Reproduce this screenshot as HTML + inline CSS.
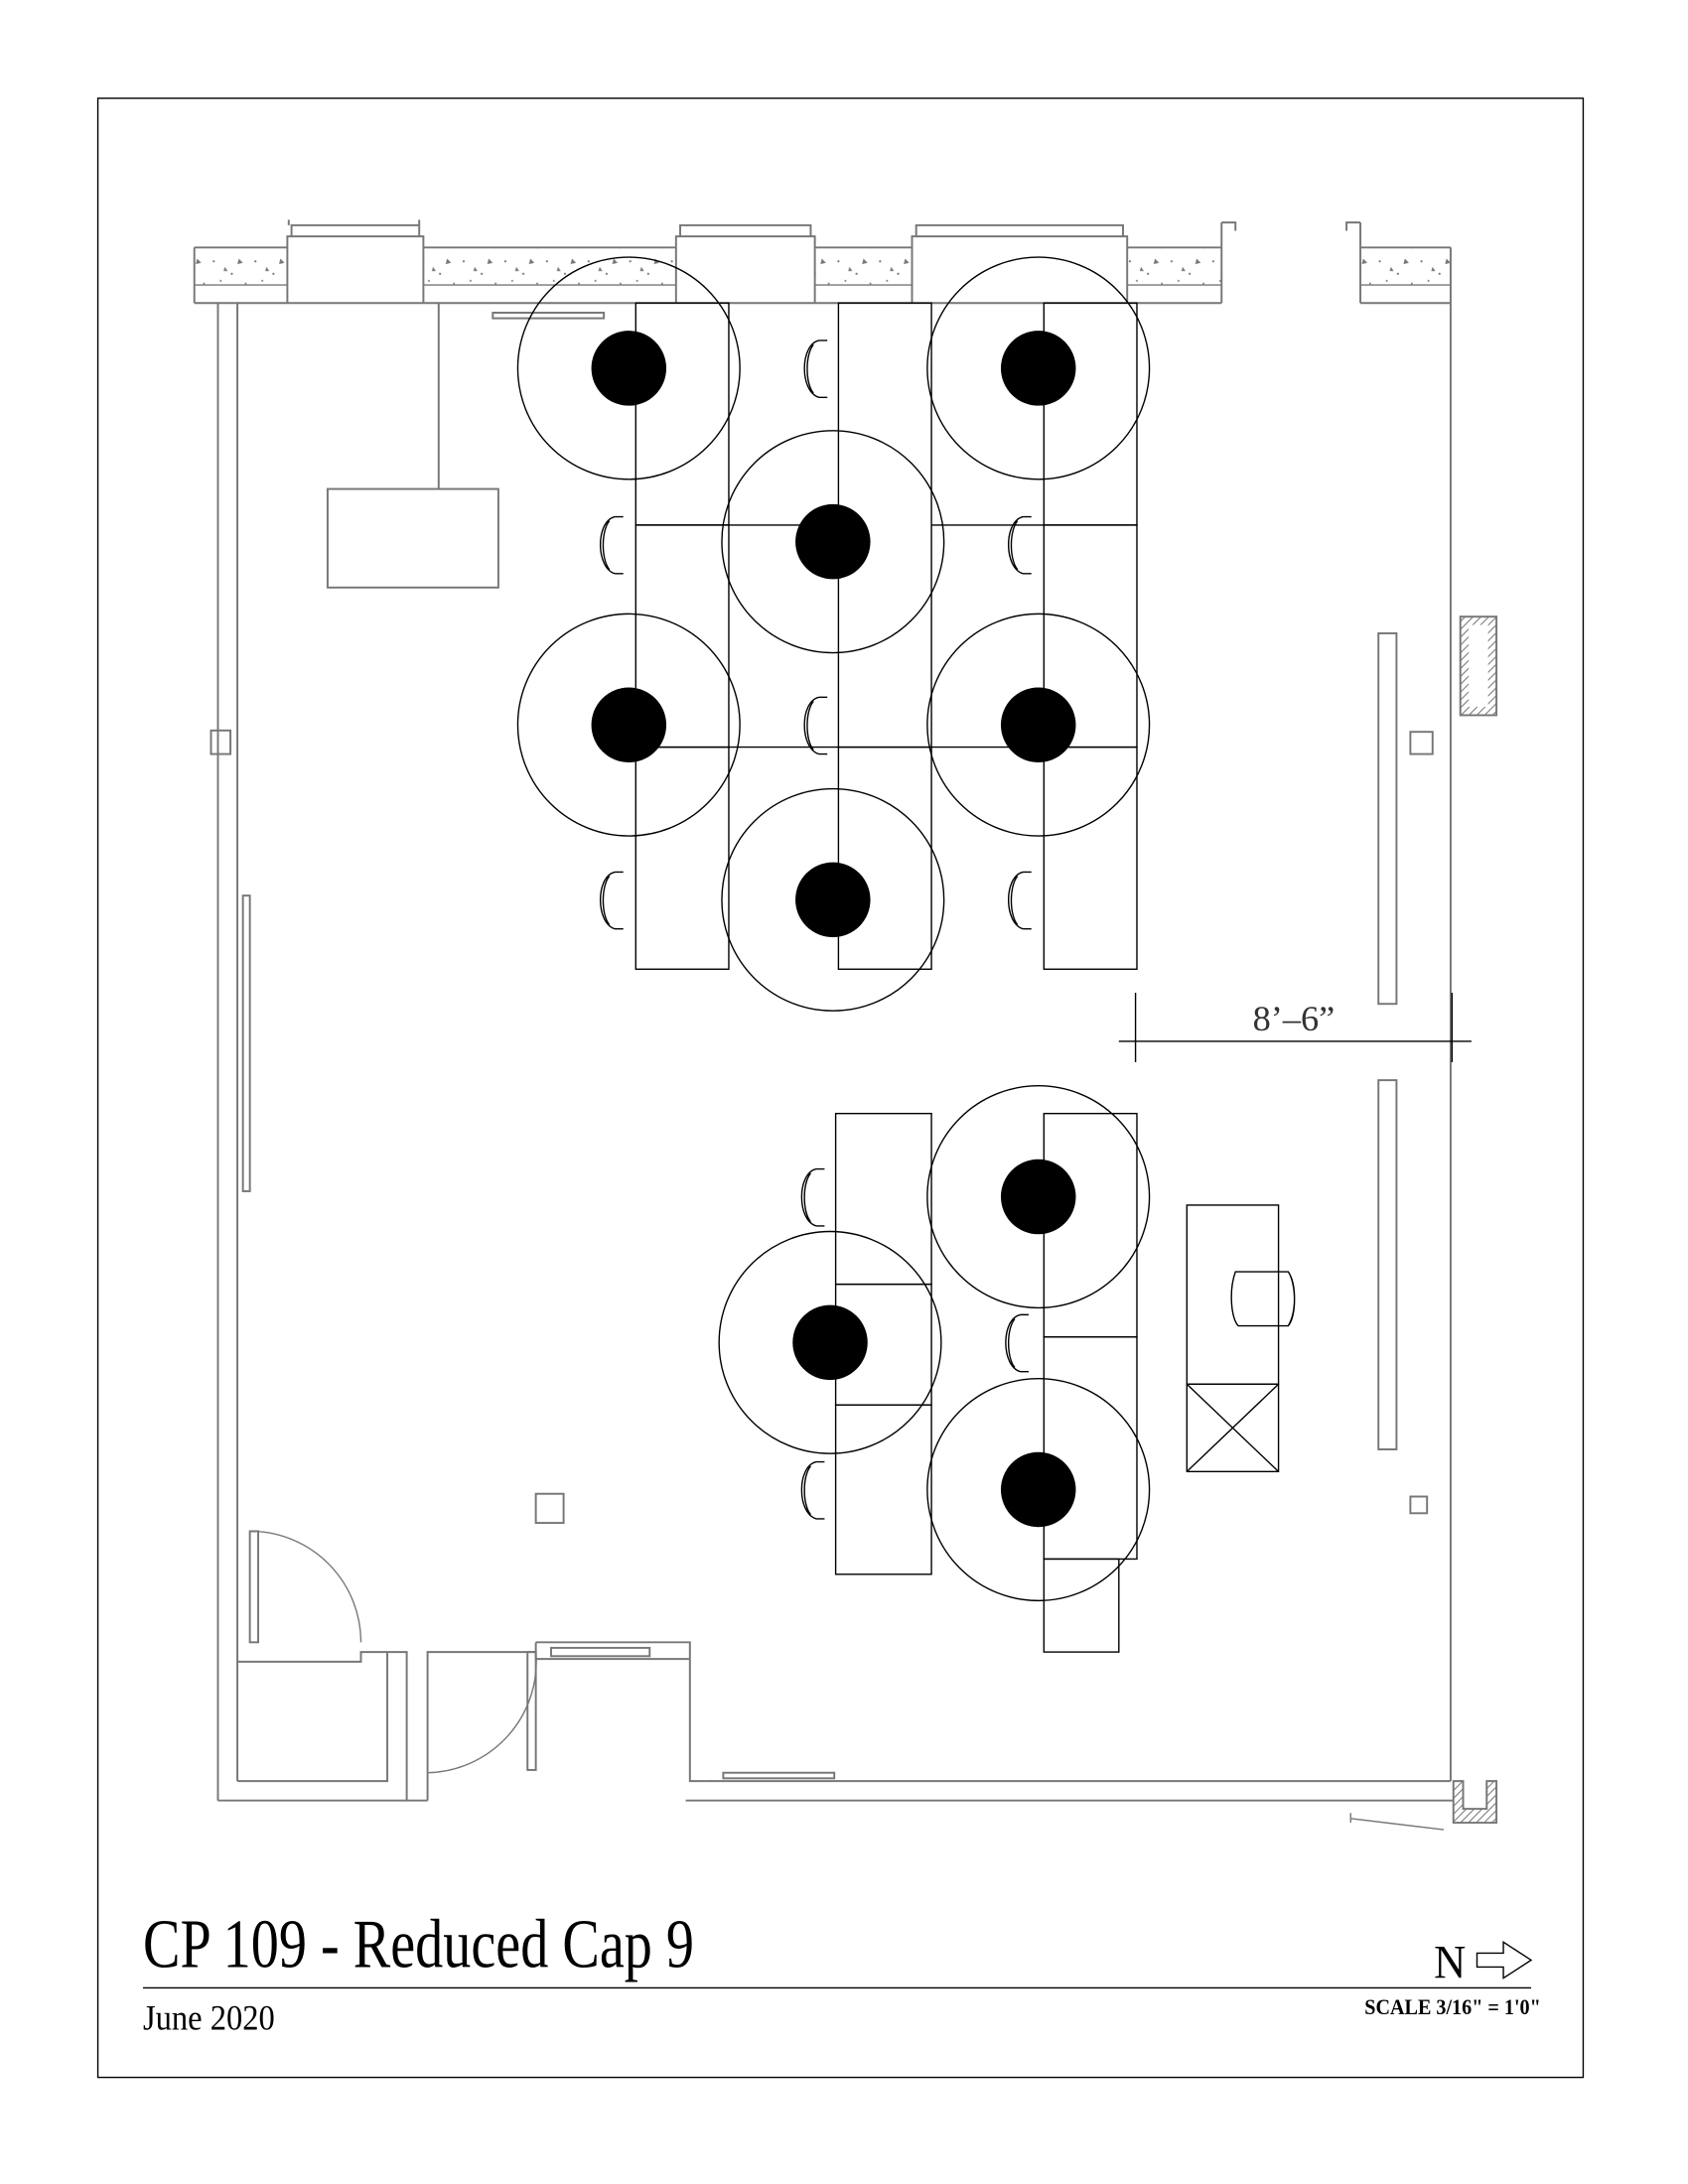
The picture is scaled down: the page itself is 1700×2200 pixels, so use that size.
<!DOCTYPE html>
<html><head><meta charset="utf-8"><style>html,body{margin:0;padding:0;background:#fff}svg{display:block}</style></head>
<body>
<svg width="1700" height="2200" viewBox="0 0 1216 1573" xmlns="http://www.w3.org/2000/svg">
<defs>
<pattern id="hat" width="4" height="4" patternUnits="userSpaceOnUse" patternTransform="rotate(45)"><line x1="0" y1="0" x2="0" y2="4" stroke="#777" stroke-width="1.5"/></pattern>
<pattern id="conc" width="30" height="26" patternUnits="userSpaceOnUse"><circle cx="4" cy="6" r="0.8" fill="#777"/><circle cx="17" cy="15" r="0.8" fill="#777"/><path d="M22 4 l3 3 l-4 1z" fill="#777"/><circle cx="9" cy="20" r="0.7" fill="#777"/><circle cx="27" cy="22" r="0.7" fill="#777"/><path d="M12 10 l2 3 l-3 0z" fill="#777"/></pattern>
</defs>
<rect x="70.5" y="70.5" width="1070" height="1426" fill="none" stroke="#000" stroke-width="1"/>
<g fill="none" stroke="#777" stroke-width="1.4">
<rect x="140" y="178" width="67" height="27" fill="url(#conc)" stroke="none"/>
<rect x="305" y="178" width="182" height="27" fill="url(#conc)" stroke="none"/>
<rect x="587" y="178" width="70" height="27" fill="url(#conc)" stroke="none"/>
<rect x="812" y="178" width="68" height="27" fill="url(#conc)" stroke="none"/>
<rect x="980" y="178" width="65" height="27" fill="url(#conc)" stroke="none"/>
<path d="M140 178H207M305 178H487M587 178H657M812 178H880M980 178H1045"/>
<path d="M140 205H207M305 205H487M587 205H657M812 205H880M980 205H1045" stroke-width="1"/>
<path d="M140 218H880M980 218H1045"/>
<path d="M140 178V218M880 160V218M880 160H890V166M980 160H970V166M980 160V218M1045 178V218"/>
<path d="M207 218V170H305V218M210 170V162H302V170M208 162V158M302 162V158"/>
<path d="M487 218V170H587V218M490 170V162H584V170"/>
<path d="M657 218V170H812V218M660 170V162H809V170"/>
<path d="M157 218V1297M171 218V1283"/>
<rect x="152" y="526" width="14" height="17"/>
<rect x="175" y="645" width="5" height="213"/>
<path d="M157 1297H293V1190H279V1283H171"/>
<path d="M171 1197H260V1190H279"/>
<path d="M308 1297V1190H386M386 1183H497V1283H508M386 1183V1195H497"/>
<rect x="397" y="1187" width="71" height="6"/>
<path d="M308 1297H293M494 1297H1047M508 1283H1045"/>
<rect x="521" y="1277" width="80" height="4"/>
<rect x="180" y="1103" width="6" height="80"/>
<path d="M183 1103A80 80 0 0 1 260 1183" stroke-width="1"/>
<rect x="380" y="1190" width="6" height="85"/>
<path d="M386 1190A80 80 0 0 1 308 1277" stroke-width="1"/>
<path d="M1045 218V1283"/>
<path d="M1047 1283H1054V1303H1071V1283H1078V1313H1047Z" fill="url(#hat)"/>
<path d="M973 1310L1040 1318M973 1306V1313" stroke-width="1"/>
<rect x="1052" y="444" width="26" height="71" fill="url(#hat)"/>
<rect x="1058" y="450" width="14" height="59" fill="#fff" stroke="none"/>
<rect x="993" y="456" width="13" height="267"/>
<rect x="993" y="778" width="13" height="266"/>
<rect x="1016" y="527" width="16" height="16"/>
<rect x="1016" y="1078" width="12" height="12"/>
<rect x="386" y="1076" width="20" height="21"/>
<path d="M316 218V352"/>
<rect x="236" y="352" width="123" height="71"/>
<rect x="355" y="225" width="80" height="4"/>
</g>
<g fill="none" stroke="#000" stroke-width="1">
<rect x="458" y="218" width="67" height="160"/><rect x="458" y="378" width="67" height="160"/><rect x="458" y="538" width="67" height="160"/>
<rect x="604" y="218" width="67" height="320"/><rect x="604" y="538" width="67" height="160"/>
<rect x="752" y="218" width="67" height="160"/><rect x="752" y="378" width="67" height="160"/><rect x="752" y="538" width="67" height="160"/>
<path d="M525 378H604M525 538H604M671 378H752M671 538H752"/>
<rect x="602" y="802" width="69" height="123"/><rect x="602" y="925" width="69" height="87"/><rect x="602" y="1012" width="69" height="122"/>
<rect x="752" y="802" width="67" height="161"/><rect x="752" y="963" width="67" height="160"/><rect x="752" y="1123" width="54" height="67"/>
<rect x="855" y="868" width="66" height="129"/><rect x="855" y="997" width="66" height="63"/>
<path d="M855 997L921 1060M921 997L855 1060"/>
<circle cx="453" cy="265" r="80"/><circle cx="748" cy="265" r="80"/><circle cx="600" cy="390" r="80"/>
<circle cx="453" cy="522" r="80"/><circle cx="748" cy="522" r="80"/><circle cx="600" cy="648" r="80"/>
<circle cx="748" cy="862" r="80"/><circle cx="598" cy="967" r="80"/><circle cx="748" cy="1073" r="80"/>
</g>
<g fill="#000">
<circle cx="453" cy="265" r="27"/><circle cx="748" cy="265" r="27"/><circle cx="600" cy="390" r="27"/>
<circle cx="453" cy="522" r="27"/><circle cx="748" cy="522" r="27"/><circle cx="600" cy="648" r="27"/>
<circle cx="748" cy="862" r="27"/><circle cx="598" cy="967" r="27"/><circle cx="748" cy="1073" r="27"/>
</g>
<g fill="none" stroke="#000" stroke-width="1">
<g id="ch"><path d="M590 245C576 248 576 282 590 286M590 245H596M590 286H596M586 248C580 255 580 276 586 283"/></g>
<use href="#ch" y="257"/>
<use href="#ch" x="-147" y="127"/><use href="#ch" x="-147" y="383"/>
<use href="#ch" x="147" y="127"/><use href="#ch" x="147" y="383"/>
<use href="#ch" x="-2" y="597"/><use href="#ch" x="-2" y="808"/><use href="#ch" x="145" y="702"/>
<path d="M890 916C885 930 887 950 892 955H928C934 945 934 925 928 916Z M928 916C934 925 934 948 928 955"/>
</g>
<g stroke="#000" stroke-width="1">
<path d="M806 750H1060M818 715V765M1046 715V765"/>
</g>
<text x="932" y="742" font-family="Liberation Serif, serif" font-size="26" text-anchor="middle" fill="#333">8’–6”</text>
<text x="103" y="1417" font-family="Liberation Serif, serif" font-size="50" textLength="397" lengthAdjust="spacingAndGlyphs">CP 109 - Reduced Cap 9</text>
<line x1="103" y1="1432" x2="1103" y2="1432" stroke="#000" stroke-width="1"/>
<text x="103" y="1462" font-family="Liberation Serif, serif" font-size="26" textLength="95" lengthAdjust="spacingAndGlyphs">June 2020</text>
<text x="983" y="1451" font-family="Liberation Serif, serif" font-size="16" font-weight="bold" textLength="127" lengthAdjust="spacingAndGlyphs">SCALE 3/16" = 1'0"</text>
<text x="1033" y="1425" font-family="Liberation Serif, serif" font-size="34" textLength="23" lengthAdjust="spacingAndGlyphs">N</text>
<path d="M1064 1407H1083V1399L1103 1412L1083 1425V1417H1064Z" fill="none" stroke="#000" stroke-width="1"/>
</svg>
</body></html>
